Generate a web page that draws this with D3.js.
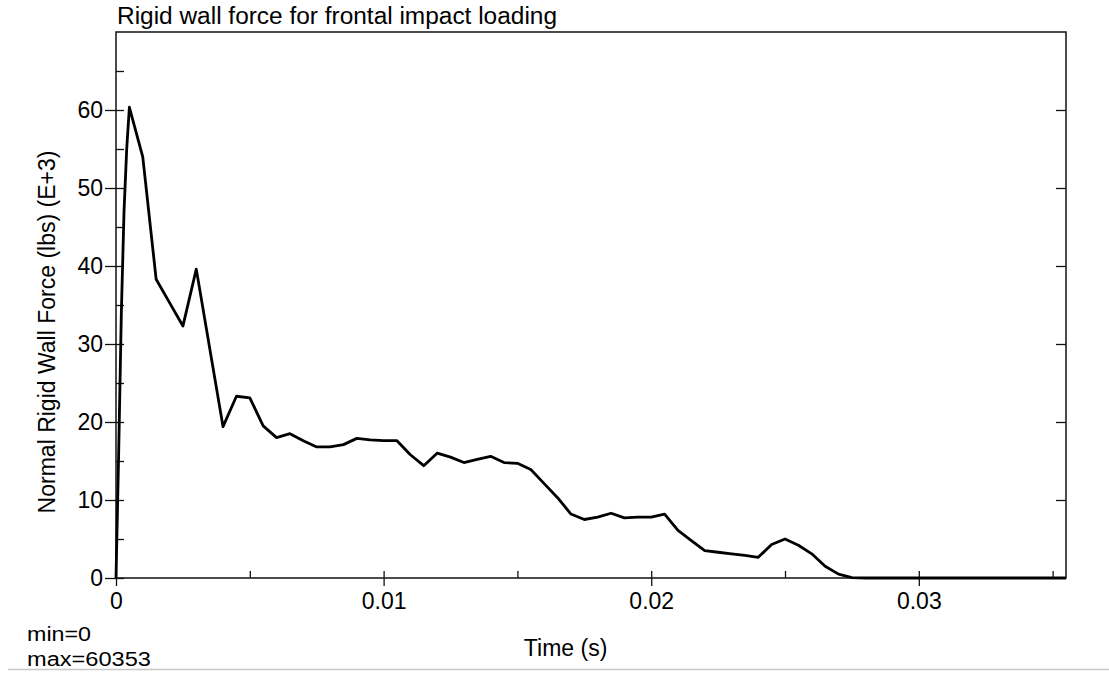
<!DOCTYPE html>
<html>
<head>
<meta charset="utf-8">
<script src="https://cdnjs.cloudflare.com/ajax/libs/d3/7.8.5/d3.min.js"></script>
<style>
  body { margin: 0; background: #fff; }
  text { font-family: "Liberation Sans", Arial, sans-serif; fill: #000; }
</style>
</head>
<body>
<div id="wrapper"></div>
<script>
// time (s) and normal rigid wall force (lbs, E+3)
const timeValues = [
  0, 0.0001, 0.0002, 0.0003, 0.0004, 0.0005, 0.001, 0.0015, 0.002, 0.0025,
  0.003, 0.0035, 0.004, 0.0045, 0.005, 0.0055, 0.006, 0.0065, 0.007, 0.0075,
  0.008, 0.0085, 0.009, 0.0095, 0.01, 0.0105, 0.011, 0.0115, 0.012, 0.0125,
  0.013, 0.0135, 0.014, 0.0145, 0.015, 0.0155, 0.016, 0.0165, 0.017, 0.0175,
  0.018, 0.0185, 0.019, 0.0195, 0.02, 0.0205, 0.021, 0.0215, 0.022, 0.0225,
  0.023, 0.0235, 0.024, 0.0245, 0.025, 0.0255, 0.026, 0.0265, 0.027, 0.0275,
  0.028, 0.029, 0.03, 0.031, 0.032, 0.033, 0.034, 0.035, 0.0355
];
const forceValues = [
  0, 16, 34, 47, 55, 60.35, 54.0, 38.3, 35.3, 32.3,
  39.6, 29.5, 19.4, 23.3, 23.1, 19.5, 18.0, 18.5, 17.6, 16.8,
  16.8, 17.1, 17.9, 17.7, 17.6, 17.6, 15.8, 14.4, 16.0, 15.5,
  14.8, 15.2, 15.6, 14.8, 14.7, 13.9, 12.1, 10.3, 8.2, 7.5,
  7.8, 8.3, 7.7, 7.8, 7.8, 8.2, 6.1, 4.8, 3.5, 3.3,
  3.1, 2.9, 2.65, 4.3, 5.0, 4.2, 3.1, 1.5, 0.5, 0.05,
  0, 0, 0, 0, 0, 0, 0, 0, 0
];

const yMajorTicks = [0, 10, 20, 30, 40, 50, 60];
const yMinorTicks = [5, 15, 25, 35, 45, 55, 65];
const xMajorTicks = [0, 0.01, 0.02, 0.03];
const xMinorTicks = [0.005, 0.015, 0.025, 0.035];
const xTickLabels = ["0", "0.01", "0.02", "0.03"];

const titleText = "Rigid wall force for frontal impact loading";
const xLabelText = "Time (s)";
const yLabelText = "Normal Rigid Wall Force (lbs) (E+3)";
const minText = "min=0";
const maxText = "max=60353";

function drawChart() {
  const dataset = timeValues.map((t, i) => ({ t: t, f: forceValues[i] }));
  const xAccessor = (d) => d.t;
  const yAccessor = (d) => d.f;

  let dimensions = {
    width: 1109,
    height: 675,
    margin: { top: 32, right: 43, bottom: 97, left: 116 },
  };
  dimensions.boundedWidth =
    dimensions.width - dimensions.margin.left - dimensions.margin.right;
  dimensions.boundedHeight =
    dimensions.height - dimensions.margin.top - dimensions.margin.bottom;

  const fontSize = 23;

  const wrapper = d3
    .select("#wrapper")
    .append("svg")
    .attr("width", dimensions.width)
    .attr("height", dimensions.height)
    .style("display", "block");

  // thin grey rule under the whole chart
  wrapper
    .append("line")
    .attr("x1", 8)
    .attr("x2", dimensions.width)
    .attr("y1", 669.5)
    .attr("y2", 669.5)
    .attr("stroke", "#c8c8c8")
    .attr("stroke-width", 1.5);

  const bounds = wrapper
    .append("g")
    .attr("transform", `translate(${dimensions.margin.left},${dimensions.margin.top})`);

  const xScale = d3
    .scaleLinear()
    .domain([0, 0.0355])
    .range([0, dimensions.boundedWidth]);

  const yScale = d3
    .scaleLinear()
    .domain([0, 70])
    .range([dimensions.boundedHeight, 0]);

  // frame
  bounds
    .append("rect")
    .attr("width", dimensions.boundedWidth)
    .attr("height", dimensions.boundedHeight)
    .attr("fill", "none")
    .attr("stroke", "#111")
    .attr("stroke-width", 1.5);

  const cleanAxis = (g) => {
    g.select(".domain").remove();
    g.selectAll(".tick line").attr("stroke", "#111").attr("stroke-width", 1.3);
  };

  // left axis: major ticks cross the axis, minor ticks inside only
  bounds
    .append("g")
    .call(d3.axisLeft(yScale).tickValues(yMajorTicks).tickSize(11).tickPadding(2))
    .call(cleanAxis)
    .call((g) => g.selectAll("text").attr("font-size", fontSize).attr("fill", "#000"));
  bounds
    .append("g")
    .call(d3.axisRight(yScale).tickValues(yMajorTicks.concat(yMinorTicks)).tickSize(8).tickFormat(""))
    .call(cleanAxis);

  // right axis: inward major ticks
  bounds
    .append("g")
    .attr("transform", `translate(${dimensions.boundedWidth},0)`)
    .call(d3.axisLeft(yScale).tickValues(yMajorTicks.slice(1)).tickSize(10).tickFormat(""))
    .call(cleanAxis);

  // bottom axis
  bounds
    .append("g")
    .attr("transform", `translate(0,${dimensions.boundedHeight})`)
    .call(
      d3.axisBottom(xScale)
        .tickValues(xMajorTicks)
        .tickSize(8)
        .tickPadding(7)
        .tickFormat((d, i) => xTickLabels[i])
    )
    .call(cleanAxis)
    .call((g) => g.selectAll("text").attr("font-size", fontSize).attr("fill", "#000"));
  bounds
    .append("g")
    .attr("transform", `translate(0,${dimensions.boundedHeight})`)
    .call(d3.axisTop(xScale).tickValues(xMajorTicks.concat(xMinorTicks)).tickSize(7).tickFormat(""))
    .call(cleanAxis);

  // the curve
  const lineGenerator = d3
    .line()
    .x((d) => xScale(xAccessor(d)))
    .y((d) => yScale(yAccessor(d)));

  bounds
    .append("path")
    .datum(dataset)
    .attr("d", lineGenerator)
    .attr("fill", "none")
    .attr("stroke", "#000")
    .attr("stroke-width", 2.8)
    .attr("stroke-linejoin", "round");

  // texts
  wrapper
    .append("text")
    .attr("x", 117)
    .attr("y", 24)
    .attr("font-size", fontSize)
    .attr("textLength", 440)
    .attr("lengthAdjust", "spacingAndGlyphs")
    .text(titleText);

  wrapper
    .append("text")
    .attr("x", dimensions.margin.left + xScale(0.0168))
    .attr("y", 656)
    .attr("text-anchor", "middle")
    .attr("font-size", fontSize)
    .text(xLabelText);

  wrapper
    .append("text")
    .attr("transform", `translate(55,${332}) rotate(-90)`)
    .attr("text-anchor", "middle")
    .attr("font-size", fontSize)
    .text(yLabelText);

  // min / max summary, slightly smaller so the two lines keep apart
  wrapper
    .append("text")
    .attr("x", 27)
    .attr("y", 641)
    .attr("font-size", 20)
    .attr("textLength", 64)
    .attr("lengthAdjust", "spacingAndGlyphs")
    .text(minText);

  wrapper
    .append("text")
    .attr("x", 27)
    .attr("y", 666)
    .attr("font-size", 20)
    .attr("textLength", 124)
    .attr("lengthAdjust", "spacingAndGlyphs")
    .text(maxText);
}

drawChart();
</script>
</body>
</html>
